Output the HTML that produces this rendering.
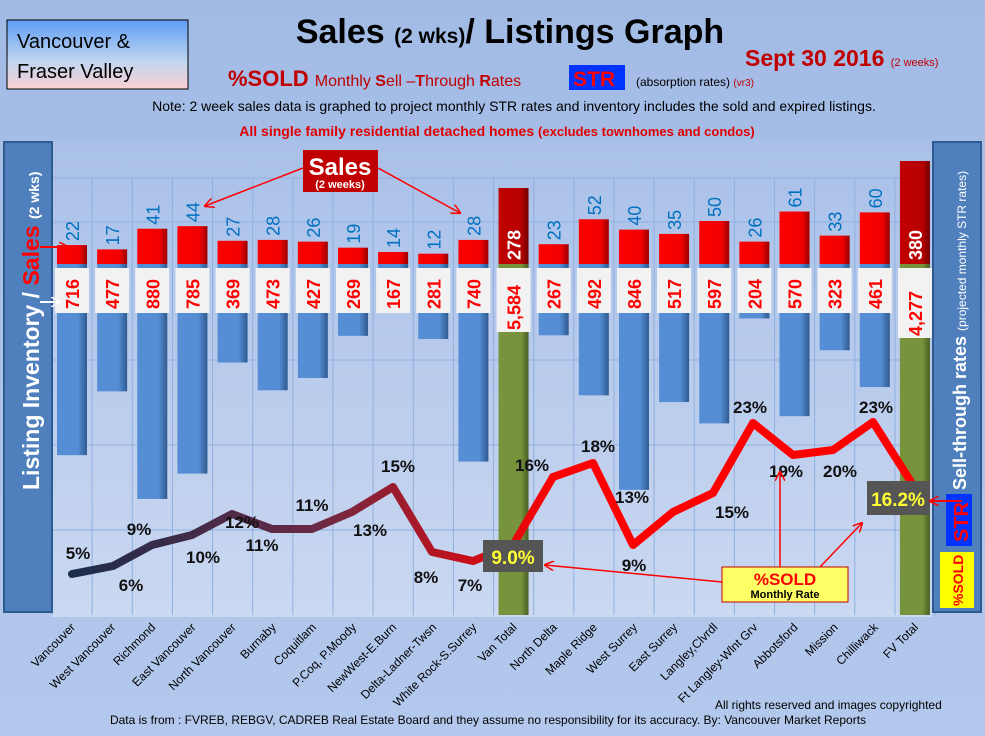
<!DOCTYPE html>
<html><head><meta charset="utf-8"><style>
html,body{margin:0;padding:0;background:#a4bde6;}
svg{display:block;font-family:"Liberation Sans",sans-serif;}
</style></head><body>
<svg id="s" width="985" height="736" viewBox="0 0 985 736" xmlns="http://www.w3.org/2000/svg">
<defs>
<linearGradient id="bg" x1="0" y1="0" x2="0" y2="1"><stop offset="0" stop-color="#a2bbe5"/><stop offset="1" stop-color="#b3c8ec"/></linearGradient>
<linearGradient id="pa" x1="0" y1="0" x2="0" y2="1"><stop offset="0" stop-color="#a9c0e8"/><stop offset="1" stop-color="#cad8f1"/></linearGradient>
<linearGradient id="vb" x1="0" y1="0" x2="0" y2="1"><stop offset="0" stop-color="#5f9df5"/><stop offset="0.6" stop-color="#c0d6f0"/><stop offset="1" stop-color="#fbcfd3"/></linearGradient>
<linearGradient id="bl" x1="0" y1="0" x2="1" y2="0"><stop offset="0" stop-color="#558ed5"/><stop offset="0.7" stop-color="#558ed5"/><stop offset="1" stop-color="#2f5a8f"/></linearGradient>
<linearGradient id="rd" x1="0" y1="0" x2="1" y2="0"><stop offset="0" stop-color="#ff0000"/><stop offset="0.75" stop-color="#f00000"/><stop offset="1" stop-color="#9a0000"/></linearGradient>
<linearGradient id="dr" x1="0" y1="0" x2="1" y2="0"><stop offset="0" stop-color="#c00000"/><stop offset="0.75" stop-color="#b80000"/><stop offset="1" stop-color="#700000"/></linearGradient>
<linearGradient id="ol" x1="0" y1="0" x2="1" y2="0"><stop offset="0" stop-color="#77933c"/><stop offset="0.75" stop-color="#77933c"/><stop offset="1" stop-color="#4a5f22"/></linearGradient>
<linearGradient id="ln" gradientUnits="userSpaceOnUse" x1="72" y1="0" x2="560" y2="0"><stop offset="0" stop-color="#1c2d4c"/><stop offset="0.5" stop-color="#6a2a45"/><stop offset="1" stop-color="#ff0000"/></linearGradient>
<marker id="ar" markerWidth="10" markerHeight="10" refX="9" refY="5" orient="auto" markerUnits="userSpaceOnUse"><path d="M0,0 L10,5 L0,10" fill="none" stroke="#ff0000" stroke-width="1.5"/></marker>
<marker id="aw" markerWidth="10" markerHeight="10" refX="9" refY="5" orient="auto" markerUnits="userSpaceOnUse"><path d="M0,0 L10,5 L0,10" fill="none" stroke="#fff" stroke-width="1.5"/></marker>
</defs>
<rect width="985" height="736" fill="url(#bg)"/>
<rect x="52" y="140" width="880" height="477" fill="url(#pa)"/>
<g id="grid" stroke="#8fb0e0" stroke-width="1"></g>
<g id="bars"></g>
<g id="line"></g>
<g id="xl" font-size="12" fill="#000"></g>

<rect x="7" y="20" width="181" height="69" fill="url(#vb)" stroke="#000" stroke-width="1"/>
<text x="17" y="48" font-size="20">Vancouver &amp;</text>
<text x="17" y="78" font-size="20">Fraser Valley</text>
<text x="510" y="43" font-size="34" font-weight="bold" text-anchor="middle">Sales <tspan font-size="21">(2 wks)</tspan>/ Listings Graph</text>
<text x="745" y="66" font-size="23" font-weight="bold" fill="#c00000">Sept 30 2016 <tspan font-size="11" font-weight="normal">(2 weeks)</tspan></text>
<text x="228" y="86" font-size="22" font-weight="bold" fill="#c00000">%SOLD <tspan font-size="16" font-weight="normal">Monthly <tspan font-weight="bold">S</tspan>ell –<tspan font-weight="bold">T</tspan>hrough <tspan font-weight="bold">R</tspan>ates</tspan></text>
<rect x="569" y="65" width="56" height="25" fill="#0033ff"/>
<text x="573" y="86" font-size="21" font-weight="bold" fill="#ff0000">STR</text>
<text x="636" y="86" font-size="12">(absorption rates) <tspan fill="#c00000" font-size="10">(vr3)</tspan></text>
<text x="514" y="111" font-size="14" text-anchor="middle">Note: 2 week sales data is graphed to project monthly STR rates and inventory includes the sold and expired listings.</text>
<text x="497" y="136" font-size="14" font-weight="bold" fill="#e00000" text-anchor="middle">All single family residential detached homes <tspan font-size="13">(excludes townhomes and condos)</tspan></text>

<rect x="4" y="142" width="48" height="470" fill="#4f7fbd" stroke="#2e5a92" stroke-width="2"/>
<text transform="translate(39,490) rotate(-90)" font-size="23" font-weight="bold" fill="#fff">Listing Inventory / <tspan fill="#ff0000">Sales</tspan> <tspan font-size="14">(2  wks)</tspan></text>
<line x1="40" y1="247" x2="68" y2="247" stroke="#ff0000" stroke-width="2" marker-end="url(#ar)"/>
<line x1="40" y1="302" x2="60" y2="302" stroke="#fff" stroke-width="2" marker-end="url(#aw)"/>
<rect x="933" y="142" width="48" height="470" fill="#4f7fbd" stroke="#2e5a92" stroke-width="2"/>
<text transform="translate(966,490) rotate(-90)" font-size="18" font-weight="bold" fill="#fff">Sell-through rates  <tspan font-size="12" font-weight="normal">(projected monthly STR rates)</tspan></text>
<rect x="946" y="494" width="26" height="52" fill="#0033ff"/>
<text transform="translate(968,542) rotate(-90)" font-size="20" font-weight="bold" fill="#ff0000">STR</text>
<rect x="940" y="552" width="34" height="56" fill="#ffff00"/>
<text transform="translate(963,606) rotate(-90)" font-size="14" font-weight="bold" fill="#ff0000">%SOLD</text>

<rect x="303" y="150" width="75" height="42" fill="#c00000"/>
<text x="340" y="175" font-size="24" font-weight="bold" fill="#fff" text-anchor="middle">Sales</text>
<text x="340" y="188" font-size="11" font-weight="bold" fill="#fff" text-anchor="middle">(2 weeks)</text>
<line x1="303" y1="168" x2="205" y2="206" stroke="#ff0000" stroke-width="1.5" marker-end="url(#ar)"/>
<line x1="378" y1="168" x2="460" y2="213" stroke="#ff0000" stroke-width="1.5" marker-end="url(#ar)"/>
<rect x="483" y="540" width="60" height="32" fill="#555"/>
<text x="513" y="564" font-size="19" font-weight="bold" fill="#ffff33" text-anchor="middle">9.0%</text>
<rect x="867" y="481" width="63" height="34" fill="#555"/>
<text x="898" y="506" font-size="19" font-weight="bold" fill="#ffff33" text-anchor="middle">16.2%</text>
<line x1="962" y1="501" x2="930" y2="501" stroke="#ff0000" stroke-width="2" marker-end="url(#ar)"/>
<rect x="722" y="567" width="126" height="35" fill="#ffff66" stroke="#c00000" stroke-width="1"/>
<text x="785" y="585" font-size="17" font-weight="bold" fill="#ff0000" text-anchor="middle">%SOLD</text>
<text x="785" y="598" font-size="11" font-weight="bold" fill="#000" text-anchor="middle">Monthly Rate</text>
<line x1="722" y1="582" x2="545" y2="565" stroke="#ff0000" stroke-width="1.5" marker-end="url(#ar)"/>
<line x1="780" y1="567" x2="780" y2="472" stroke="#ff0000" stroke-width="1.5" marker-end="url(#ar)"/>
<line x1="820" y1="567" x2="862" y2="523" stroke="#ff0000" stroke-width="1.5" marker-end="url(#ar)"/>

<text x="715" y="709" font-size="12">All rights reserved and  images copyrighted</text>
<text x="488" y="724" font-size="12" text-anchor="middle">Data is from : FVREB, REBGV, CADREB Real Estate Board and they assume no responsibility for its accuracy. By: Vancouver Market Reports</text>
</svg>
<script>
var NS="http://www.w3.org/2000/svg";
function el(p,t,a,txt){var e=document.createElementNS(NS,t);for(var k in a)e.setAttribute(k,a[k]);if(txt!=null)e.textContent=txt;p.appendChild(e);return e;}
var D=[["Vancouver",22,716,5],["West Vancouver",17,477,6],["Richmond",41,880,9],["East Vancouver",44,785,10],["North Vancouver",27,369,12],["Burnaby",28,473,11],["Coquitlam",26,427,11],["P.Coq, P.Moody",19,269,13],["NewWest-E.Burn",14,167,15],["Delta-Ladner-Twsn",12,281,8],["White Rock-S.Surrey",28,740,7],["Van Total",278,"5,584",null],["North Delta",23,267,16],["Maple Ridge",52,492,18],["West Surrey",40,846,9],["East Surrey",35,517,13],["Langley,Clvrdl",50,597,15],["Ft Langley-Wlnt Grv",26,204,23],["Abbotsford",61,570,19],["Mission",33,323,20],["Chilliwack",60,461,23],["FV Total",380,"4,277",null]];
var g=document.getElementById("grid"),b=document.getElementById("bars"),L=document.getElementById("line"),X=document.getElementById("xl");
var B=264;
for(var i=0;i<=22;i++){var gx=52+i*40.14;el(g,"line",{x1:gx,y1:178,x2:gx,y2:615});}
[178,222,360,445,530].forEach(function(y){el(g,"line",{x1:52,y1:y,x2:930,y2:y});});
D.forEach(function(d,i){
 var cx=72+i*40.14, tot=d[3]===null;
 if(tot){
  var top=i==11?188:161;
  el(b,"rect",{x:cx-15,y:B,width:30,height:615-B,fill:"url(#ol)"});
  el(b,"rect",{x:cx-15,y:top,width:30,height:B-top,fill:"url(#dr)"});
  el(b,"text",{transform:"translate("+(cx+7)+","+(B-4)+") rotate(-90)","font-size":"18","font-weight":"bold",fill:"#fff"},String(d[1]));
 } else {
  var h=d[2]*0.267;
  el(b,"rect",{x:cx-15,y:B,width:30,height:h,fill:"url(#bl)"});
  var sh=d[1]*0.86;
  el(b,"rect",{x:cx-15,y:B-sh,width:30,height:sh,fill:"url(#rd)"});
  el(b,"text",{transform:"translate("+(cx+7)+","+(B-sh-4)+") rotate(-90)","font-size":"18",fill:"#0070c0"},String(d[1]));
 }
 el(b,"rect",{x:cx-17,y:268,width:34,height:tot?(i==11?64:70):45,fill:"#f2f2f2"});
 var lt=String(d[2]);
 el(b,"text",{transform:"translate("+(cx+7)+","+(tot?(i==11?330:336):309)+") rotate(-90)","font-size":"18","font-weight":"bold",fill:"#ff0000"},lt);
 el(X,"text",{transform:"translate("+(cx+4)+",628) rotate(-45)","text-anchor":"end"},d[0]);
});
var P=[[72,574],[113,566],[152,545],[192,535],[232,514],[272,529],[312,529],[352,512],[393,487],[432,552],[473,561],[513,545],[553,477],[593,463],[633,545],[673,512],[713,493],[753,423],[793,455],[833,450],[873,422],[913,485]];
var ptsL=P.slice(0,13).map(function(p){return p.join(",")}).join(" ");
var ptsR=P.slice(12).map(function(p){return p.join(",")}).join(" ");
el(L,"polyline",{points:ptsL,fill:"none",stroke:"url(#ln)","stroke-width":"8","stroke-linejoin":"round","stroke-linecap":"round"});
el(L,"polyline",{points:ptsR,fill:"none",stroke:"#ff0000","stroke-width":"8","stroke-linejoin":"round","stroke-linecap":"round"});
var PL=[[78,559,"5%"],[131,591,"6%"],[139,535,"9%"],[203,563,"10%"],[242,528,"12%"],[262,551,"11%"],[312,511,"11%"],[370,536,"13%"],[398,472,"15%"],[426,583,"8%"],[470,591,"7%"],[532,471,"16%"],[598,452,"18%"],[632,503,"13%"],[634,571,"9%"],[732,518,"15%"],[750,413,"23%"],[786,477,"19%"],[840,477,"20%"],[876,413,"23%"]];
PL.forEach(function(p){el(L,"text",{x:p[0],y:p[1],"font-size":"17","font-weight":"bold","text-anchor":"middle",fill:"#111"},p[2]);});
</script>
</body></html>
